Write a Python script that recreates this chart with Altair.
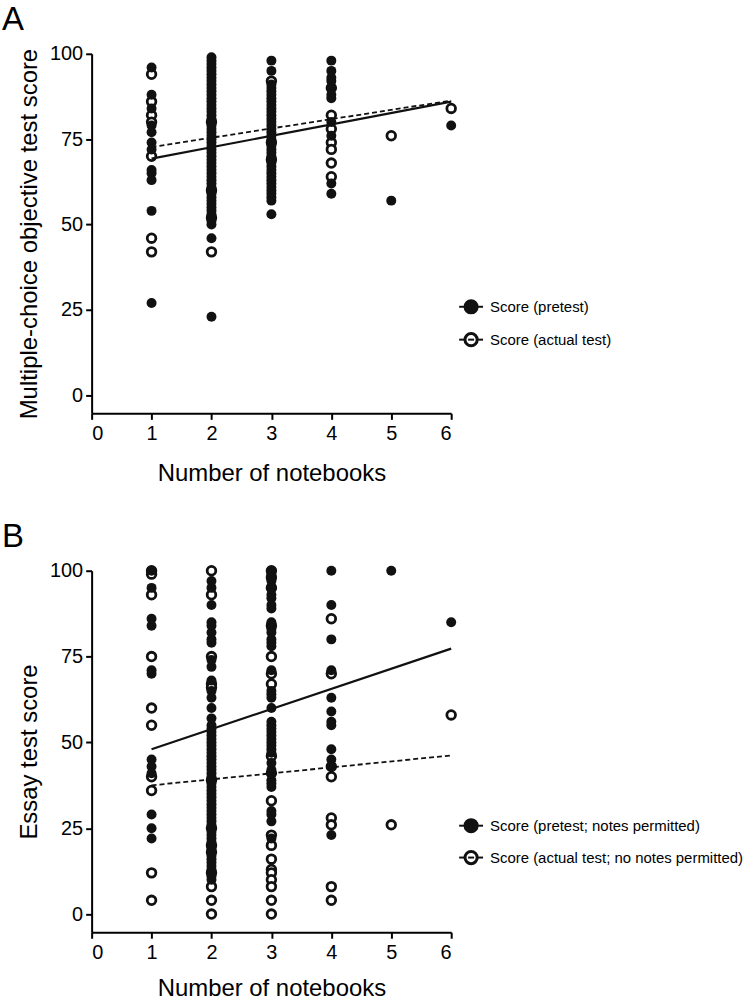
import altair as alt
import pandas as pd

FONT = "Liberation Sans"
INK = "#111111"

# Notebook counts on the x axis and the fitted-line end points
fit_x = [1, 6]

# ---- Panel A: multiple-choice objective test score ----
a_pretest = {
    1: [96, 88, 84, 79, 77, 74, 72, 66, 65, 63, 54, 27],
    2: [99, 98, 97, 96, 95, 94, 93, 92, 91, 90, 89, 88, 87, 86, 85, 84, 83, 82,
        81, 80, 79, 78, 77, 76, 75, 74, 73, 72, 71, 70, 69, 68, 67, 66, 65, 64,
        63, 62, 61, 60, 59, 58, 57, 56, 55, 54, 53, 52, 51, 50, 46, 23],
    3: [98, 95, 91, 90, 89, 88, 87, 86, 85, 84, 83, 82, 81, 80, 79, 78, 77, 76,
        75, 74, 73, 72, 71, 70, 69, 68, 67, 66, 65, 64, 63, 62, 61, 60, 59, 58,
        57, 53],
    4: [98, 95, 93, 92, 90, 88, 87, 80, 76, 62, 59],
    5: [57],
    6: [79],
}
a_actual = {
    1: [94, 86, 82, 80, 70, 46, 42],
    2: [80, 60, 52, 42],
    3: [92, 74, 69],
    4: [90, 82, 78, 74, 72, 68, 64],
    5: [76],
    6: [84],
}
a_fit_pretest = [69.3, 86.0]
a_fit_actual = [72.7, 86.3]
a_legend = ["Score (pretest)", "Score (actual test)"]

# ---- Panel B: essay test score ----
b_pretest = {
    1: [100, 95, 86, 84, 71, 70, 45, 43, 41, 29, 25, 22],
    2: [97, 95, 90, 85, 84, 82, 80, 79, 74, 72, 68, 65, 63, 60, 57, 55, 54, 53,
        52, 51, 50, 49, 48, 47, 46, 45, 44, 43, 42, 41, 40, 39, 38, 37, 36, 35,
        34, 33, 32, 31, 30, 29, 28, 27, 26, 25, 24, 23, 22, 21, 20, 19, 18, 17,
        16, 15, 14, 13, 12, 11, 10],
    3: [100, 99, 97, 95, 93, 92, 90, 89, 85, 83, 82, 80, 79, 78, 71, 65, 64, 63,
        60, 56, 55, 54, 53, 52, 51, 50, 49, 48, 47, 44, 42, 41, 39, 38, 37, 30,
        29, 27, 22],
    4: [100, 90, 80, 71, 63, 59, 56, 55, 48, 45, 43, 23],
    5: [100],
    6: [85],
}
b_actual = {
    1: [100, 99, 93, 75, 60, 55, 40, 36, 12, 4],
    2: [100, 93, 75, 67, 66, 39, 25, 20, 18, 12, 8, 4, 0],
    3: [100, 98, 95, 84, 75, 70, 67, 46, 41, 33, 23, 20, 16, 13, 12, 10, 8, 4, 0],
    4: [86, 70, 43, 40, 28, 26, 8, 4],
    5: [26],
    6: [58],
}
b_fit_pretest = [48.0, 77.3]
b_fit_actual = [37.5, 46.2]
b_legend = ["Score (pretest; notes permitted)",
            "Score (actual test; no notes permitted)"]


def long_table(groups):
    rows = [{"notebooks": k, "score": v} for k, vals in groups.items() for v in vals]
    return pd.DataFrame(rows)


axis_style = dict(
    domainColor="black", domainWidth=2, tickColor="black", tickWidth=2,
    tickSize=6, labelFont=FONT, labelFontSize=20, labelColor="black",
    titleFont=FONT, titleFontSize=24, titleFontWeight="normal",
    titleColor="black", grid=False,
)


def panel(letter, pre, act, fit_pre, fit_act, y_title, legend_labels, legend_rows,
          height, x_title_pad):
    x = alt.X(
        "notebooks:Q",
        scale=alt.Scale(domain=[0, 6], nice=False, zero=False),
        axis=alt.Axis(values=[0, 1, 2, 3, 4, 5, 6], title="Number of notebooks",
                      labelPadding=4, titlePadding=x_title_pad, **axis_style),
    )
    y = alt.Y(
        "score:Q",
        scale=alt.Scale(domain=[-5.3, 100], nice=False, zero=False),
        axis=alt.Axis(values=[0, 25, 50, 75, 100], title=y_title,
                      labelPadding=3, titlePadding=8, **axis_style),
    )

    open_pts = alt.Chart(long_table(act)).mark_point(
        shape="circle", filled=True, fill="white", stroke=INK,
        strokeWidth=2.8, size=75, opacity=1,
    ).encode(x=x, y=y)
    filled_pts = alt.Chart(long_table(pre)).mark_point(
        shape="circle", filled=True, color=INK, size=100, opacity=1,
    ).encode(x=x, y=y)

    line_pre = alt.Chart(pd.DataFrame({"notebooks": fit_x, "score": fit_pre})).mark_line(
        color=INK, strokeWidth=2.2,
    ).encode(x=x, y=y)
    line_act = alt.Chart(pd.DataFrame({"notebooks": fit_x, "score": fit_act})).mark_line(
        color=INK, strokeWidth=1.8, strokeDash=[5, 3],
    ).encode(x=x, y=y)

    # panel letter
    tag = alt.Chart(pd.DataFrame({"t": [letter]})).mark_text(
        font=FONT, fontSize=33, align="left", baseline="alphabetic", color="black",
    ).encode(x=alt.value(-90), y=alt.value(-24), text="t:N")

    # hand-drawn legend: symbol with line through it, then label
    legend_layers = []
    for i, (label, ly) in enumerate(zip(legend_labels, legend_rows)):
        lab_df = pd.DataFrame({"t": [label]})
        legend_layers.append(
            alt.Chart(lab_df).mark_rule(color=INK, strokeWidth=2).encode(
                x=alt.value(369), x2=alt.value(393), y=alt.value(ly))
        )
        if i == 0:
            legend_layers.append(
                alt.Chart(lab_df).mark_point(shape="circle", filled=True, color=INK,
                                             size=230, opacity=1).encode(
                    x=alt.value(381), y=alt.value(ly))
            )
        else:
            legend_layers.append(
                alt.Chart(lab_df).mark_point(shape="circle", filled=True, fill="white",
                                             stroke=INK, strokeWidth=3, size=150,
                                             opacity=1).encode(
                    x=alt.value(381), y=alt.value(ly))
            )
            legend_layers.append(
                alt.Chart(lab_df).mark_rule(color=INK, strokeWidth=2).encode(
                    x=alt.value(378), x2=alt.value(384), y=alt.value(ly))
            )
        legend_layers.append(
            alt.Chart(lab_df).mark_text(font=FONT, fontSize=15, align="left",
                                        baseline="middle", color="black").encode(
                x=alt.value(400), y=alt.value(ly), text="t:N")
        )

    return alt.layer(open_pts, filled_pts, line_pre, line_act, tag, *legend_layers).properties(
        width=361, height=height)


chart_a = panel("A", a_pretest, a_actual, a_fit_pretest, a_fit_actual,
                "Multiple-choice objective test score", a_legend, [254, 287], 361, 18)
chart_b = panel("B", b_pretest, b_actual, b_fit_pretest, b_fit_actual,
                "Essay test score", b_legend, [256, 288], 363, 14)

chart = alt.vconcat(chart_a, chart_b, spacing=36).properties(
    padding={"left": 2, "top": 2, "right": 0, "bottom": 0},
    background="white",
).configure_view(stroke=None)

chart.save("out.html", embed_options={"renderer": "svg", "actions": False})
